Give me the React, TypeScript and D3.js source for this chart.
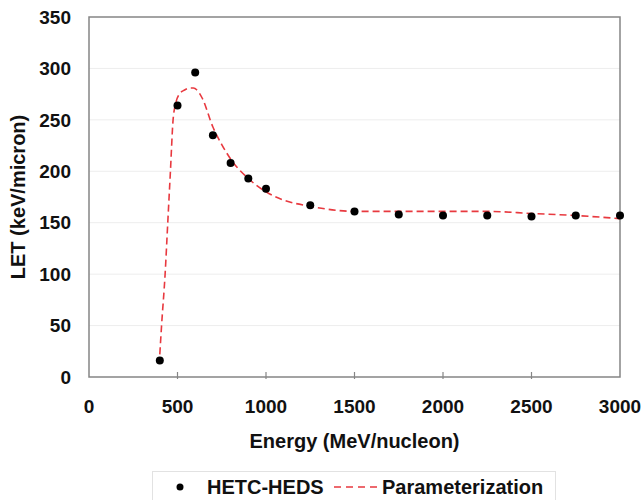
import { useEffect, useRef } from 'react';
import * as d3 from 'd3';

// HETC-HEDS simulation points
const hetcEnergy = [400, 500, 600, 700, 800, 900, 1000, 1250, 1500, 1750, 2000, 2250, 2500, 2750, 3000];
const hetcLet = [16, 264, 296, 235, 208, 193, 183, 167, 161, 158, 157, 157, 156, 157, 157];

// Parameterization curve
const paramEnergy = [400, 410, 430, 445, 460, 475, 490, 510, 540, 570, 590, 610, 640, 700, 750, 800, 900, 1000, 1100, 1250, 1400, 1500, 1750, 2000, 2250, 2500, 2750, 3000];
const paramLet = [22, 50, 100, 150, 200, 250, 266, 275, 279, 281, 281, 279, 271, 243, 226, 212, 193, 180, 172, 166, 162, 161, 161, 161, 161, 159, 157, 154];

const xTicks = [0, 500, 1000, 1500, 2000, 2500, 3000];
const yTicks = [0, 50, 100, 150, 200, 250, 300, 350];

const FONT = 'Arial, "Liberation Sans", Helvetica, sans-serif';

export default function App() {
  const svgRef = useRef<SVGSVGElement>(null);

  useEffect(() => {
    if (!svgRef.current) return;
    const svg = d3.select(svgRef.current);
    svg.selectAll('*').remove();

    const x = d3.scaleLinear().domain([0, 3000]).range([89, 620]);
    const y = d3.scaleLinear().domain([0, 350]).range([377, 17]);

    const g = svg.append('g');

    // gridlines
    g.selectAll('line.grid')
      .data(yTicks.filter(t => t > 0 && t < 350))
      .join('line')
      .attr('class', 'grid')
      .attr('x1', x(0))
      .attr('x2', x(3000))
      .attr('y1', d => y(d))
      .attr('y2', d => y(d))
      .attr('stroke', '#ededed')
      .attr('stroke-width', 1);

    // plot border
    g.append('rect')
      .attr('x', x(0))
      .attr('y', y(350))
      .attr('width', x(3000) - x(0))
      .attr('height', y(0) - y(350))
      .attr('fill', 'none')
      .attr('stroke', '#858585')
      .attr('stroke-width', 1.5);

    // x ticks
    g.selectAll('line.xtick')
      .data(xTicks.filter(t => t > 0 && t < 3000))
      .join('line')
      .attr('class', 'xtick')
      .attr('x1', d => x(d))
      .attr('x2', d => x(d))
      .attr('y1', y(0) - 5)
      .attr('y2', y(0) + 2)
      .attr('stroke', '#858585')
      .attr('stroke-width', 1.2);

    // tick labels
    g.selectAll('text.xlab')
      .data(xTicks)
      .join('text')
      .attr('class', 'xlab')
      .attr('x', d => x(d))
      .attr('y', 413)
      .attr('text-anchor', 'middle')
      .style('font', `bold 19px ${FONT}`)
      .attr('fill', '#111')
      .text(d => d);

    g.selectAll('text.ylab')
      .data(yTicks)
      .join('text')
      .attr('class', 'ylab')
      .attr('x', 71)
      .attr('y', d => y(d))
      .attr('dy', '0.35em')
      .attr('text-anchor', 'end')
      .style('font', `bold 19px ${FONT}`)
      .attr('fill', '#111')
      .text(d => d);

    // axis titles
    g.append('text')
      .attr('x', (x(0) + x(3000)) / 2)
      .attr('y', 448)
      .attr('text-anchor', 'middle')
      .style('font', `bold 20px ${FONT}`)
      .attr('fill', '#111')
      .text('Energy (MeV/nucleon)');

    g.append('text')
      .attr('transform', `translate(25,${(y(0) + y(350)) / 2}) rotate(-90)`)
      .attr('text-anchor', 'middle')
      .style('font', `bold 20px ${FONT}`)
      .attr('fill', '#111')
      .text('LET (keV/micron)');

    // parameterization line
    const paramData = paramEnergy.map((e, i) => [e, paramLet[i]] as [number, number]);
    const line = d3.line<[number, number]>()
      .x(d => x(d[0]))
      .y(d => y(d[1]))
      .curve(d3.curveMonotoneX);

    g.append('path')
      .datum(paramData)
      .attr('fill', 'none')
      .attr('stroke', '#e8393f')
      .attr('stroke-width', 1.6)
      .attr('stroke-dasharray', '7,4')
      .attr('d', line);

    // HETC-HEDS dots
    g.selectAll('circle.pt')
      .data(hetcEnergy.map((e, i) => [e, hetcLet[i]]))
      .join('circle')
      .attr('class', 'pt')
      .attr('cx', d => x(d[0]))
      .attr('cy', d => y(d[1]))
      .attr('r', 4)
      .attr('fill', '#000');

    // legend
    const legend = svg.append('g');
    legend.append('rect')
      .attr('x', 152.5)
      .attr('y', 471.5)
      .attr('width', 403)
      .attr('height', 40)
      .attr('fill', '#fff')
      .attr('stroke', '#e2e2e2')
      .attr('stroke-width', 1);

    legend.append('circle')
      .attr('cx', 180)
      .attr('cy', 487)
      .attr('r', 3.5)
      .attr('fill', '#000');

    legend.append('text')
      .attr('x', 207)
      .attr('y', 494)
      .style('font', `bold 20px ${FONT}`)
      .attr('fill', '#111')
      .text('HETC-HEDS');

    legend.append('line')
      .attr('x1', 334)
      .attr('x2', 377)
      .attr('y1', 487)
      .attr('y2', 487)
      .attr('stroke', '#e8393f')
      .attr('stroke-width', 1.6)
      .attr('stroke-dasharray', '7,5');

    legend.append('text')
      .attr('x', 382)
      .attr('y', 494)
      .style('font', `bold 20px ${FONT}`)
      .attr('fill', '#111')
      .text('Parameterization');
  }, []);

  return (
    <svg
      ref={svgRef}
      width={644}
      height={500}
      style={{ position: 'absolute', left: 0, top: 0, background: '#fff' }}
    />
  );
}
